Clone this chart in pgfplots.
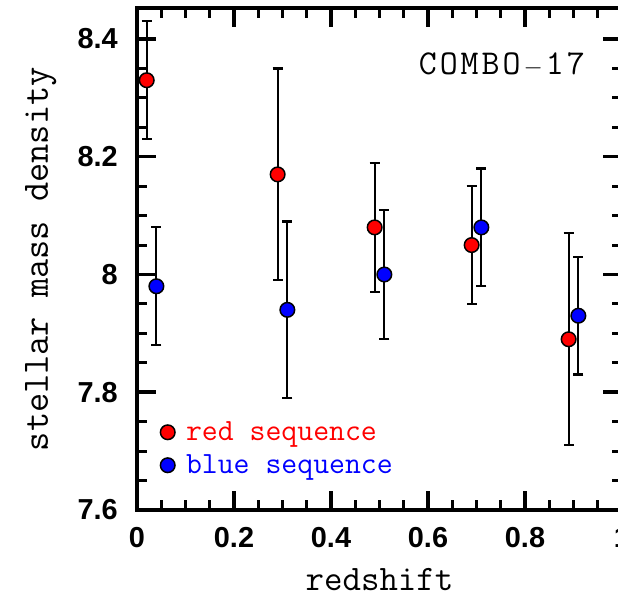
\documentclass[border=0pt]{standalone}
\usepackage{fontspec}
\usepackage{pgfplots}
\usepackage{pgfplotstable}
\pgfplotsset{compat=1.18}
\usetikzlibrary{calc}
\newfontfamily\tickfont{Liberation Sans}

\pgfplotstableread{
x y e
0.02 8.33 0.10
0.29 8.17 0.18
0.49 8.08 0.11
0.69 8.05 0.10
0.89 7.89 0.18
}\reddata
\pgfplotstableread{
x y e
0.04 7.98 0.10
0.31 7.94 0.15
0.51 8.00 0.11
0.71 8.08 0.10
0.91 7.93 0.10
}\bluedata

\begin{document}
\begin{tikzpicture}
\begin{axis}[
  scale only axis, width=485bp, height=501.5bp,
  xmin=0, xmax=1, ymin=7.6, ymax=8.4518,
  xtick={0,0.2,0.4,0.6,0.8,1}, ytick={7.6,7.8,8,8.2,8.4},
  minor x tick num=3, minor y tick num=3,
  tick align=inside,
  major tick length=19bp, minor tick length=10bp,
  axis line style={line width=4bp},
  major tick style={line width=3.5bp, black},
  minor tick style={line width=3bp, black},
  tick label style={font=\fontsize{29}{29}\selectfont\tickfont\bfseries, inner sep=0pt},
  /pgf/number format/assume math mode=true,
  xticklabel style={anchor=north, yshift=-17bp},
  yticklabel style={anchor=east, xshift=-19bp},
  xlabel={redshift}, ylabel={stellar mass density},
  xlabel style={at={($(rel axis cs:0.5,0)+(0,-80bp)$)}, anchor=base, font=\fontsize{36}{36}\selectfont\ttfamily, inner sep=0pt},
  ylabel style={at={($(rel axis cs:0,0.5)+(-89bp,0)$)}, anchor=base, rotate=0, font=\fontsize{37.4}{37.4}\selectfont\ttfamily, inner sep=0pt},
  legend style={at={(rel axis cs:0.0483,0.1753)}, anchor=north west, draw=none, fill=none, inner sep=0pt, outer sep=0pt, row sep=12.6bp, column sep=11bp, nodes={inner sep=0pt}, font=\fontsize{31}{35}\selectfont\ttfamily},
  legend cell align=left,
  legend image code/.code={\draw[#1] plot coordinates {(0bp,0bp)};},
]
\addplot[only marks, mark=*, mark size=7.3bp, mark options={fill=red, draw=black, line width=1.5bp},
  error bars/.cd, y dir=both, y explicit, error bar style={line width=2.2bp, black},
  error mark options={rotate=90, mark size=5bp, line width=2.2bp, black}]
  table[x=x, y=y, y error=e] {\reddata};
\addlegendentry{\textcolor{red}{red sequence}}
\addplot[only marks, mark=*, mark size=7.3bp, mark options={fill=blue, draw=black, line width=1.5bp},
  error bars/.cd, y dir=both, y explicit, error bar style={line width=2.2bp, black},
  error mark options={rotate=90, mark size=5bp, line width=2.2bp, black}]
  table[x=x, y=y, y error=e] {\bluedata};
\addlegendentry{\textcolor{blue}{blue sequence}}
\node[anchor=base east, font=\fontsize{35}{35}\selectfont\ttfamily, inner sep=0pt] at (rel axis cs:0.9237,0.8674) {C\kern3bp O\kern3bp M\kern3bp B\kern3bp O\kern3bp$-$\kern3bp 1\kern3bp 7};
\coordinate (bbll) at (rel axis cs:0,0);
\coordinate (bbul) at (rel axis cs:0,1);
\end{axis}
\pgfresetboundingbox
\path[use as bounding box] ($(bbll)+(-137bp,-86bp)$) rectangle ($(bbul)+(481bp,8.5bp)$);
\end{tikzpicture}
\end{document}
